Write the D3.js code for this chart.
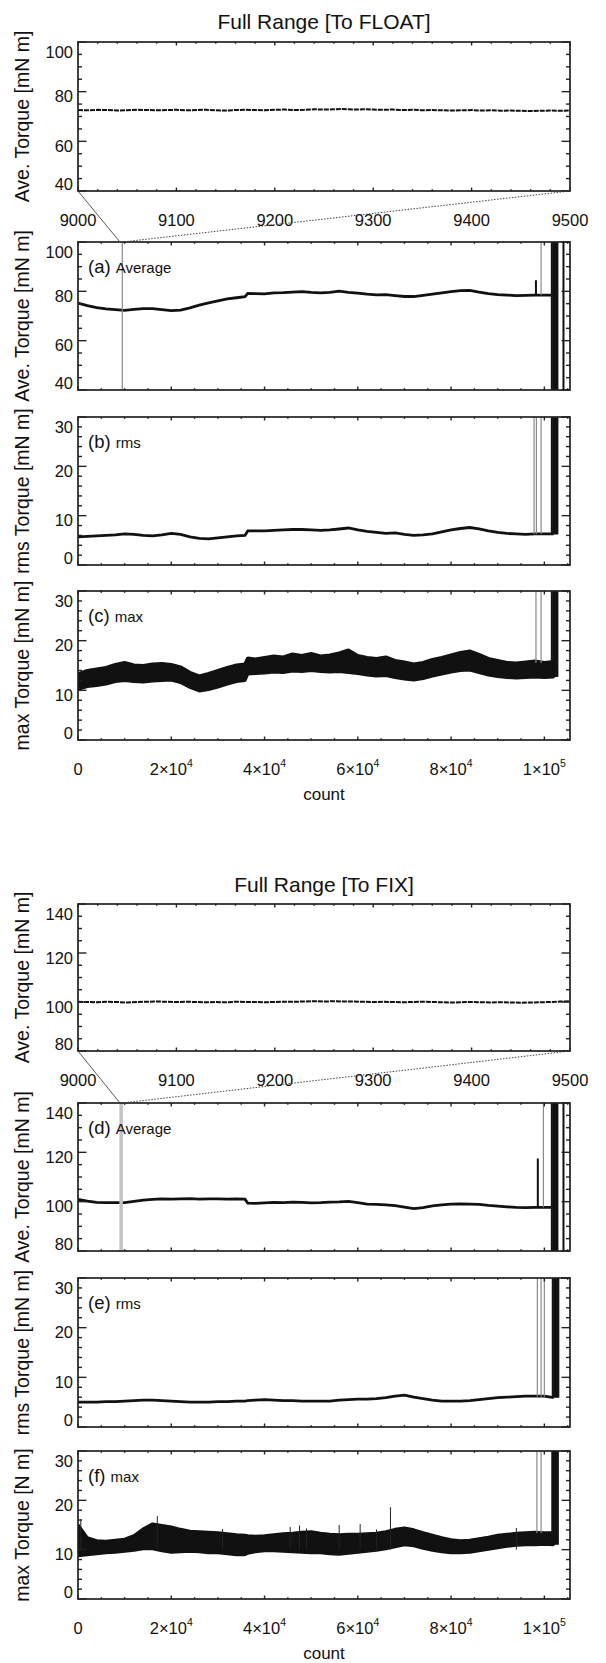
<!DOCTYPE html>
<html>
<head>
<meta charset="utf-8">
<script src="https://cdn.jsdelivr.net/npm/d3@7"></script>
<style>
    body { margin: 0; background: #fff; }
    text { font-family: "Liberation Sans", Arial, Helvetica, sans-serif; fill: #111; }
</style>
</head>
<body>
<svg id="chart" width="606" height="1663"></svg>
<script>
/* torque history, two runs (to FLOAT / to FIX) */

// sample positions for the full-range series
const countGrid = [0, 2000, 4000, 6000, 8000, 10000, 12000, 14000, 16000, 18000, 20000, 22000, 24000, 26000,
    28000, 30000, 32000, 34000, 35800, 36400, 38000, 40000, 42000, 44000, 46000, 48000, 50000, 52000, 54000,
    56000, 58000, 60000, 62000, 64000, 66000, 68000, 70000, 72000, 74000, 76000, 78000, 80000, 82000, 84000,
    86000, 88000, 90000, 92000, 94000, 96000, 98000, 100000, 102000];

const aveFloat = [75.2, 74.2, 73.4, 72.9, 72.6, 72.3, 72.7, 73.0, 73.0, 72.6, 72.2, 72.4, 73.3, 74.4, 75.3,
    76.1, 76.9, 77.4, 77.8, 79.2, 79.1, 79.0, 79.4, 79.5, 79.7, 79.9, 79.6, 79.4, 79.6, 80.1, 79.6, 79.3, 78.9,
    78.6, 78.7, 78.3, 77.9, 77.9, 78.4, 78.9, 79.4, 79.9, 80.3, 80.4, 79.7, 79.1, 78.7, 78.5, 78.3, 78.4, 78.5,
    78.5, 78.5];

const rmsFloat = [5.7, 5.8, 5.9, 6.0, 6.1, 6.3, 6.2, 6.0, 5.9, 6.1, 6.4, 6.2, 5.7, 5.4, 5.3, 5.5, 5.7, 5.9, 6.0,
    6.9, 6.9, 6.9, 7.0, 7.1, 7.2, 7.2, 7.1, 7.0, 7.1, 7.3, 7.5, 7.1, 6.8, 6.6, 6.4, 6.5, 6.2, 6.0, 6.1, 6.3, 6.7,
    7.1, 7.4, 7.6, 7.3, 6.9, 6.6, 6.4, 6.3, 6.2, 6.3, 6.3, 6.3];

const maxFloatLow = [10.2, 10.8, 11.0, 11.3, 11.8, 12.0, 11.8, 11.7, 11.9, 12.0, 12.1, 11.6, 10.6, 9.9, 10.2,
    10.7, 11.3, 11.8, 12.0, 13.3, 13.4, 13.5, 13.7, 13.6, 13.9, 13.8, 14.0, 13.8, 13.7, 13.8, 13.6, 13.4, 13.1,
    12.9, 13.0, 12.6, 12.3, 12.1, 12.4, 12.9, 13.3, 13.7, 14.0, 14.1, 13.6, 13.1, 12.8, 12.6, 12.5, 12.6, 12.7,
    12.6, 12.7];
const maxFloatHigh = [13.3, 14.0, 14.3, 14.6, 15.2, 15.6, 15.1, 15.0, 15.3, 15.4, 15.2, 14.7, 13.6, 12.9, 13.4,
    14.0, 14.6, 15.1, 15.3, 16.5, 16.3, 16.6, 16.9, 16.7, 17.3, 17.0, 17.4, 16.9, 17.1, 17.5, 18.1, 17.0, 16.6,
    16.4, 16.7, 16.0, 15.7, 15.3, 15.6, 16.2, 16.6, 17.1, 17.6, 17.9, 17.2, 16.4, 16.0, 15.6, 15.5, 15.7, 15.9,
    15.6, 15.8];

const aveFix = [100.9, 100.2, 99.7, 99.6, 99.6, 99.6, 100.1, 100.6, 100.9, 101.1, 101.0, 101.1, 101.2, 101.0,
    101.1, 101.1, 101.0, 101.1, 101.0, 99.4, 99.3, 99.5, 99.7, 99.6, 99.8, 99.7, 99.5, 99.6, 99.8, 99.9, 100.1,
    99.6, 99.0, 98.9, 98.7, 98.4, 97.8, 97.2, 97.6, 98.3, 98.7, 99.0, 99.1, 99.0, 98.9, 98.5, 98.2, 97.9, 97.7,
    97.6, 97.7, 97.7, 97.7];

const rmsFix = [5.0, 5.0, 5.0, 5.1, 5.1, 5.2, 5.3, 5.4, 5.4, 5.3, 5.2, 5.1, 5.0, 5.0, 5.0, 5.1, 5.1, 5.2, 5.2,
    5.3, 5.4, 5.5, 5.4, 5.3, 5.3, 5.2, 5.2, 5.2, 5.2, 5.4, 5.5, 5.6, 5.6, 5.7, 5.9, 6.2, 6.4, 6.0, 5.7, 5.4, 5.2,
    5.2, 5.2, 5.3, 5.5, 5.7, 5.9, 6.0, 6.1, 6.2, 6.2, 6.2, 5.9];

const maxFixLow = [8.8, 9.0, 9.2, 9.4, 9.5, 9.7, 9.9, 10.2, 10.2, 9.8, 9.5, 9.6, 9.7, 9.6, 9.4, 9.4, 9.2, 9.0,
    9.0, 9.3, 9.6, 9.8, 9.8, 9.7, 9.6, 9.5, 9.4, 9.4, 9.2, 9.1, 9.3, 9.5, 9.7, 9.9, 10.2, 10.6, 11.0, 10.8, 10.3,
    9.9, 9.6, 9.4, 9.4, 9.5, 9.8, 10.1, 10.4, 10.7, 10.9, 11.0, 11.0, 11.1, 11.0];
const maxFixHigh = [15.0, 12.4, 11.8, 11.7, 11.9, 12.1, 12.8, 14.2, 15.2, 14.9, 14.6, 14.1, 13.7, 13.6, 13.5,
    13.4, 13.2, 13.0, 12.9, 12.8, 12.7, 12.8, 13.0, 13.2, 13.3, 13.5, 13.6, 13.3, 13.1, 13.0, 13.1, 13.1, 13.2,
    13.3, 13.6, 14.1, 14.4, 14.0, 13.4, 12.9, 12.4, 12.0, 11.8, 11.9, 12.2, 12.5, 12.9, 13.1, 13.3, 13.4, 13.5,
    13.4, 13.4];

// isolated spikes in (f): [count, peak]
const maxFixSpikes = [[600, 16.2], [17000, 16.8], [31000, 14.2], [45500, 14.6], [47500, 14.9], [49000, 14.3],
    [56000, 15.0], [60500, 15.2], [64000, 14.1], [67000, 18.6], [94000, 14.4]];

// zoomed window 9000-9500
const zoomCounts = d3.range(9000, 9501, 10);
const aveFloatZoom = [72.6, 72.5, 72.7, 72.6, 72.4, 72.5, 72.7, 72.6, 72.5, 72.6, 72.7, 72.5, 72.6, 72.7,
    72.5, 72.4, 72.6, 72.7, 72.6, 72.5, 72.7, 72.8, 72.6, 72.7, 72.9, 72.8, 72.9, 73.0, 72.8, 72.9, 72.8,
    72.7, 72.8, 72.6, 72.7, 72.5, 72.6, 72.5, 72.4, 72.5, 72.6, 72.4, 72.5, 72.3, 72.4, 72.3, 72.2, 72.3,
    72.4, 72.3, 72.4];
const aveFixZoom = [100.1, 100.0, 99.9, 100.1, 100.0, 99.8, 100.0, 100.1, 100.2, 100.1, 100.0, 100.1, 100.0,
    99.9, 100.0, 99.9, 100.1, 100.0, 100.0, 99.9, 100.0, 100.1, 100.1, 100.2, 100.3, 100.2, 100.3, 100.2,
    100.2, 100.1, 100.0, 100.1, 100.0, 99.9, 100.0, 100.1, 100.0, 99.9, 99.8, 99.9, 100.0, 99.9, 99.8, 99.9,
    99.8, 99.7, 99.8, 99.9, 100.0, 100.2, 100.3];

// vertical excursions off the scale: [count, from, to]
const grayA = [[9500, 40, 100], [99300, 78.5, 100]];
const blackA = [[98200, 78.5, 84.5], [101600, 40, 100], [101900, 40, 100], [102200, 40, 100],
    [102500, 40, 100], [102800, 40, 100], [104100, 40, 100]];
const grayB = [[97800, 6.3, 30], [98300, 6.3, 30], [99300, 6.3, 30]];
const blackB = [[101600, 6.2, 30], [101900, 6.2, 30], [102200, 6.2, 30], [102500, 6.2, 30], [102800, 6.2, 30]];
const grayC = [[98200, 15.5, 30], [99300, 15.5, 30]];
const blackC = [[101600, 12.7, 30], [101900, 12.7, 30], [102200, 12.7, 30], [102500, 12.7, 30], [102800, 12.7, 30]];
const grayD = [[99800, 97.7, 140]];
const blackD = [[98600, 97.7, 117.5], [101600, 80, 140], [101900, 80, 140], [102200, 80, 140],
    [102500, 80, 140], [102800, 80, 140], [104100, 80, 140]];
const markD = [[9250, 80, 140]];
const grayE = [[98500, 6.1, 30], [99300, 6.1, 30], [100000, 6.1, 30]];
const blackE = [[101800, 5.9, 30], [102100, 5.9, 30], [102400, 5.9, 30], [102700, 5.9, 30], [103000, 5.9, 30]];
const grayF = [[98400, 13.4, 30], [99300, 13.4, 30]];
const blackF = [[101700, 11.0, 30], [102000, 11.0, 30], [102300, 11.0, 30], [102600, 11.0, 30], [102900, 11.0, 30]];

const fullTicks = [0, 20000, 40000, 60000, 80000, 100000];
const fullTickLabels = [["0", ""], ["2×10", "4"], ["4×10", "4"], ["6×10", "4"], ["8×10", "4"], ["1×10", "5"]];
const zoomTicks = [9000, 9100, 9200, 9300, 9400, 9500];

const plotLeft = 78;
const plotRight = 570;
const fullMax = 105500;

const svg = d3.select("#chart");

function drawPanel(cfg) {
    const g = svg.append("g");
    const x = d3.scaleLinear().domain(cfg.xDomain).range([plotLeft, plotRight]);
    const y = d3.scaleLinear().domain(cfg.yDomain).range([cfg.bottom, cfg.top]);
    const clipId = `clip-${cfg.id}`;

    g.append("clipPath").attr("id", clipId)
        .append("rect")
        .attr("x", plotLeft).attr("y", cfg.top)
        .attr("width", plotRight - plotLeft).attr("height", cfg.bottom - cfg.top);

    const body = g.append("g").attr("clip-path", `url(#${clipId})`);

    if (cfg.band) {
        const area = d3.area()
            .x((d, i) => x(countGrid[i]))
            .y0(d => y(d[0]))
            .y1(d => y(d[1]));
        const pairs = cfg.band[0].map((lo, i) => [lo, cfg.band[1][i]]);
        body.append("path").attr("d", area(pairs))
            .attr("fill", "#111").attr("stroke", "#111").attr("stroke-width", 3.2)
            .attr("stroke-linejoin", "bevel");
    }
    if (cfg.spikes) {
        body.selectAll(null).data(cfg.spikes).join("line")
            .attr("x1", d => x(d[0])).attr("x2", d => x(d[0]))
            .attr("y1", y(10)).attr("y2", d => y(d[1]))
            .attr("stroke", "#222").attr("stroke-width", 1);
    }
    if (cfg.series) {
        const line = d3.line()
            .x((d, i) => x(cfg.xs[i]))
            .y(d => y(d));
        body.append("path").attr("d", line(cfg.series))
            .attr("fill", "none").attr("stroke", "#111")
            .attr("stroke-width", cfg.lineWidth || 2.8)
            .attr("stroke-dasharray", cfg.dash || null);
    }
    const vlines = (data, color, width) => {
        body.selectAll(null).data(data || []).join("line")
            .attr("x1", d => x(d[0])).attr("x2", d => x(d[0]))
            .attr("y1", d => y(d[1])).attr("y2", d => y(d[2]))
            .attr("stroke", color).attr("stroke-width", width);
    };
    vlines(cfg.mark, "#c4c4c4", 3.5);
    vlines(cfg.gray, "#8a8a8a", 1.2);
    vlines(cfg.black, "#111", 2);

    // axes box with inward ticks on all four sides
    const ax = g.append("g").attr("stroke", "#222").attr("fill", "none");
    const xMinor = d3.range(cfg.xDomain[0], cfg.xDomain[1] + 1e-6, cfg.xMinorStep);
    const yMinor = d3.range(cfg.yDomain[0], cfg.yDomain[1] + 1e-6, cfg.yMinorStep);
    const yMajor = d3.range(cfg.yDomain[0], cfg.yDomain[1] + 1e-6, cfg.yMajorStep);

    xMinor.forEach(v => {
        const len = cfg.xTicks.includes(v) ? 3.5 : 1.8;
        ax.append("line").attr("x1", x(v)).attr("x2", x(v))
            .attr("y1", cfg.bottom).attr("y2", cfg.bottom - len).attr("stroke-width", 1.4);
        ax.append("line").attr("x1", x(v)).attr("x2", x(v))
            .attr("y1", cfg.top).attr("y2", cfg.top + len).attr("stroke-width", 1.4);
    });
    yMinor.forEach(v => {
        const isMajor = yMajor.some(m => Math.abs(m - v) < 1e-6);
        const len = isMajor ? 8.5 : 4;
        ax.append("line").attr("x1", plotLeft).attr("x2", plotLeft + len)
            .attr("y1", y(v)).attr("y2", y(v)).attr("stroke-width", 1.4);
        ax.append("line").attr("x1", plotRight).attr("x2", plotRight - len)
            .attr("y1", y(v)).attr("y2", y(v)).attr("stroke-width", 1.4);
    });
    ax.append("rect")
        .attr("x", plotLeft).attr("y", cfg.top)
        .attr("width", plotRight - plotLeft).attr("height", cfg.bottom - cfg.top)
        .attr("stroke-width", 1.7);

    // y tick labels
    yMajor.forEach(v => {
        const base = Math.min(Math.max(y(v) + 10.5, cfg.top + 16), cfg.bottom - 1);
        g.append("text")
            .attr("x", plotLeft - 5).attr("y", base)
            .attr("text-anchor", "end").attr("font-size", 16.5)
            .text(String(v));
    });

    // y title
    g.append("text")
        .attr("transform", `translate(${29},${(cfg.top + cfg.bottom) / 2}) rotate(-90)`)
        .attr("text-anchor", "middle").attr("font-size", 19.5)
        .text(cfg.yTitle);

    // panel tag
    if (cfg.tag) {
        const t = g.append("text").attr("x", plotLeft + 10).attr("y", cfg.top + 31);
        t.append("tspan").attr("font-size", 18.5).text(cfg.tag[0] + " ");
        t.append("tspan").attr("font-size", 15).text(cfg.tag[1]);
    }

    // x tick labels
    if (cfg.xLabels === "zoom") {
        zoomTicks.forEach(v => {
            g.append("text").attr("x", x(v)).attr("y", cfg.bottom + 35)
                .attr("text-anchor", "middle").attr("font-size", 16.5).text(String(v));
        });
    } else if (cfg.xLabels === "full") {
        fullTicks.forEach((v, i) => {
            const t = g.append("text").attr("x", x(v)).attr("y", cfg.bottom + 35)
                .attr("text-anchor", "middle").attr("font-size", 16.5);
            t.append("tspan").text(fullTickLabels[i][0]);
            if (fullTickLabels[i][1]) {
                t.append("tspan").attr("font-size", 10.5).attr("dy", -8).text(fullTickLabels[i][1]);
            }
        });
        g.append("text").attr("x", (plotLeft + plotRight) / 2).attr("y", cfg.bottom + 60)
            .attr("text-anchor", "middle").attr("font-size", 17).text("count");
    }
    return { x, y };
}

function drawFigure(fig) {
    svg.append("text")
        .attr("x", (plotLeft + plotRight) / 2).attr("y", fig.titleY)
        .attr("text-anchor", "middle").attr("font-size", 21)
        .text(fig.title);

    const zoomPanel = drawPanel(fig.zoom);
    const mainPanel = drawPanel(fig.panels[0]);
    fig.panels.slice(1).forEach(drawPanel);

    // connectors from the zoom window to its place in the full range
    svg.append("line")
        .attr("x1", zoomPanel.x(9000)).attr("y1", fig.zoom.bottom)
        .attr("x2", mainPanel.x(9000)).attr("y2", fig.panels[0].top)
        .attr("stroke", "#444").attr("stroke-width", 0.9);
    svg.append("line")
        .attr("x1", zoomPanel.x(9500)).attr("y1", fig.zoom.bottom)
        .attr("x2", mainPanel.x(9500)).attr("y2", fig.panels[0].top)
        .attr("stroke", "#444").attr("stroke-width", 1)
        .attr("stroke-dasharray", "1.5,1.5");
}

const fullAxis = { xDomain: [0, fullMax], xTicks: fullTicks, xMinorStep: 5000 };
const zoomAxis = { xDomain: [9000, 9500], xTicks: zoomTicks, xMinorStep: 20 };

drawFigure({
    title: "Full Range [To FLOAT]",
    titleY: 29,
    zoom: Object.assign({ id: "zf", top: 42, bottom: 191, yDomain: [40, 100], yMajorStep: 20, yMinorStep: 5,
        yTitle: "Ave. Torque [mN m]", xs: zoomCounts, series: aveFloatZoom, lineWidth: 2, dash: "5,1",
        xLabels: "zoom" }, zoomAxis),
    panels: [
        Object.assign({ id: "a", top: 242, bottom: 390, yDomain: [40, 100], yMajorStep: 20, yMinorStep: 5,
            yTitle: "Ave. Torque [mN m]", tag: ["(a)", "Average"], xs: countGrid, series: aveFloat,
            gray: grayA, black: blackA }, fullAxis),
        Object.assign({ id: "b", top: 417, bottom: 565, yDomain: [0, 30], yMajorStep: 10, yMinorStep: 2,
            yTitle: "rms Torque [mN m]", tag: ["(b)", "rms"], xs: countGrid, series: rmsFloat,
            gray: grayB, black: blackB }, fullAxis),
        Object.assign({ id: "c", top: 591, bottom: 740, yDomain: [0, 30], yMajorStep: 10, yMinorStep: 2,
            yTitle: "max Torque [mN m]", tag: ["(c)", "max"], band: [maxFloatLow, maxFloatHigh],
            gray: grayC, black: blackC, xLabels: "full" }, fullAxis)
    ]
});

drawFigure({
    title: "Full Range [To FIX]",
    titleY: 892,
    zoom: Object.assign({ id: "zx", top: 904, bottom: 1051, yDomain: [80, 140], yMajorStep: 20, yMinorStep: 5,
        yTitle: "Ave. Torque [mN m]", xs: zoomCounts, series: aveFixZoom, lineWidth: 2, dash: "5,1",
        xLabels: "zoom" }, zoomAxis),
    panels: [
        Object.assign({ id: "d", top: 1103, bottom: 1251, yDomain: [80, 140], yMajorStep: 20, yMinorStep: 5,
            yTitle: "Ave. Torque [mN m]", tag: ["(d)", "Average"], xs: countGrid, series: aveFix,
            mark: markD, gray: grayD, black: blackD }, fullAxis),
        Object.assign({ id: "e", top: 1278, bottom: 1427, yDomain: [0, 30], yMajorStep: 10, yMinorStep: 2,
            yTitle: "rms Torque [mN m]", tag: ["(e)", "rms"], xs: countGrid, series: rmsFix,
            gray: grayE, black: blackE }, fullAxis),
        Object.assign({ id: "f", top: 1451, bottom: 1599, yDomain: [0, 30], yMajorStep: 10, yMinorStep: 2,
            yTitle: "max Torque [N m]", tag: ["(f)", "max"], band: [maxFixLow, maxFixHigh],
            spikes: maxFixSpikes, gray: grayF, black: blackF, xLabels: "full" }, fullAxis)
    ]
});
</script>
</body>
</html>
